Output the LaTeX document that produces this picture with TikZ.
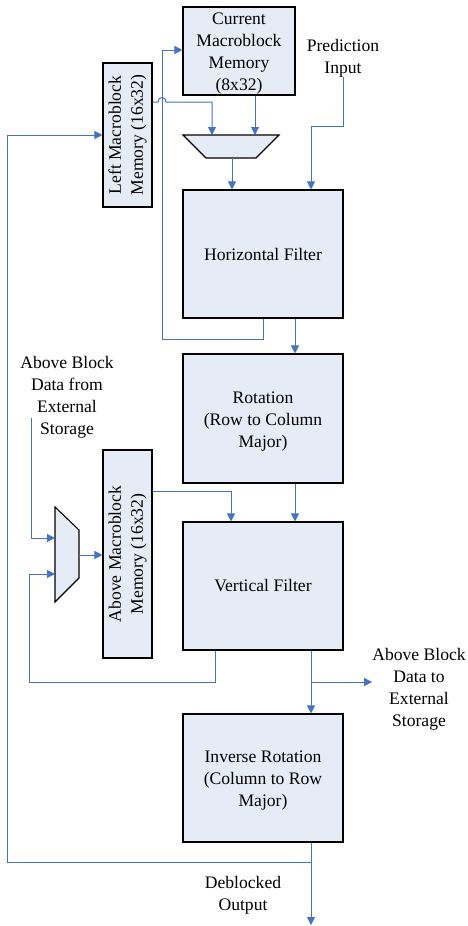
\documentclass[tikz,border=0pt]{standalone}
\usepackage{fontspec}
\setmainfont{Liberation Serif}
\usetikzlibrary{arrows.meta}
\definecolor{wireblue}{RGB}{68,114,196}
\definecolor{boxfill}{RGB}{230,236,246}
% extra head room on the first line of multi-line block texts
\newcommand\toppad{\rule{0pt}{17pt}}
\begin{document}
\begin{tikzpicture}[x=1pt,y=-1pt,
  txt/.style={font=\fontsize{17.6}{22}\selectfont},
  blk/.style={txt, draw=black, line width=1.1pt, fill=boxfill, inner sep=0pt, align=center},
  lbl/.style={txt, align=center, inner sep=0pt},
  muxshape/.style={draw=black, line width=1.1pt, fill=boxfill},
  flow/.style={draw=wireblue, line width=1pt, -{Triangle[length=8pt,width=8pt]}}]
\useasboundingbox (0,0) rectangle (467,926);

% processing and memory blocks
\node[blk, minimum width=112pt, minimum height=88pt] (cmm) at (239,51)
  {\toppad Current\\Macroblock\\Memory\\(8x32)};
\node[blk, minimum width=49pt, minimum height=144pt] (lmm) at (127.5,135)
  {\rotatebox{90}{\begin{tabular}{@{}c@{}}Left Macroblock\\Memory (16x32)\end{tabular}}};
\node[blk, minimum width=160pt, minimum height=128pt] (hf) at (263,254) {Horizontal Filter};
\node[blk, minimum width=160pt, minimum height=129pt] (rot) at (263,418.5)
  {\toppad Rotation\\(Row to Column\\Major)};
\node[blk, minimum width=49pt, minimum height=208pt] (amm) at (127.5,554)
  {\rotatebox{90}{\begin{tabular}{@{}c@{}}Above Macroblock\\Memory (16x32)\end{tabular}}};
\node[blk, minimum width=160pt, minimum height=128pt] (vf) at (263,586) {Vertical Filter};
\node[blk, minimum width=160pt, minimum height=128pt] (irot) at (263,778)
  {\toppad Inverse Rotation\\(Column to Row\\Major)};

% free-standing labels
\node[lbl] (pred) at (343,58) {Prediction\\Input};
\node[lbl] (abext) at (67,397) {Above Block\\Data from\\External\\Storage};
\node[lbl] (about) at (419,689) {Above Block\\Data to\\External\\Storage};
\node[lbl] (dbo) at (243,895) {Deblocked\\Output};

% multiplexers
\coordinate (m1tl) at (183,135);
\coordinate (m1tr) at (279,135);
\coordinate (m1br) at (256,158);
\coordinate (m1bl) at (206,158);
\draw[muxshape] (m1tl) -- (m1tr) -- (m1br) -- (m1bl) -- cycle;
\coordinate (m1a) at (212,135);
\coordinate (m1b) at (255,135);
\coordinate (m1o) at (232,158);

\coordinate (m2tl) at (55,507);
\coordinate (m2tr) at (79,530);
\coordinate (m2br) at (79,578);
\coordinate (m2bl) at (55,602);
\draw[muxshape] (m2tl) -- (m2tr) -- (m2br) -- (m2bl) -- cycle;
\coordinate (m2a) at (55,538);
\coordinate (m2b) at (55,574);
\coordinate (m2o) at (79,555);

% routing points
\coordinate (hop) at (162,102);
\coordinate (kp) at (311,126);
\coordinate (fb) at (162,339);
\coordinate (fbt) at (162,50);
\coordinate (colr) at (295,0);
\coordinate (ak) at (231,491);
\coordinate (vk) at (215,682);
\coordinate (vk2) at (29,682);
\coordinate (abin) at (31,418);
\coordinate (ob) at (311,682);
\coordinate (outb) at (311,862);
\coordinate (outl) at (7,862);
\coordinate (dend) at (311,925);

% connectors
\draw[flow] (cmm.south -| m1b) -- (m1b);
\draw[flow] (lmm.east |- hop) -- (158,102) .. controls (158,96) and (166,96) .. (166,102) -| (m1a);
\draw[flow] (m1o) -- (m1o |- hf.north);
\draw[flow] (pred.south) |- (kp) -- (kp |- hf.north);
\draw[flow] (hf.south) |- (fb) -- (fbt) -- (cmm.west |- fbt);
\draw[flow] (hf.south -| colr) -- (rot.north -| colr);
\draw[flow] (rot.south -| colr) -- (vf.north -| colr);
\draw[flow] (amm.east |- ak) -| (ak |- vf.north);
\draw[flow] (vf.south -| vk) -- (vk) -- (vk2) |- (m2b);
\draw[flow] (abin) |- (m2a);
\draw[flow] (m2o) -- (amm.west |- m2o);
\draw[flow] (vf.south -| ob) -- (irot.north -| ob);
\draw[flow] (ob) -- (about.west |- ob);
\draw[flow] (irot.south -| dend) -- (dend);
\draw[flow] (outb) -- (outl) |- (lmm.west);
\end{tikzpicture}
\end{document}
